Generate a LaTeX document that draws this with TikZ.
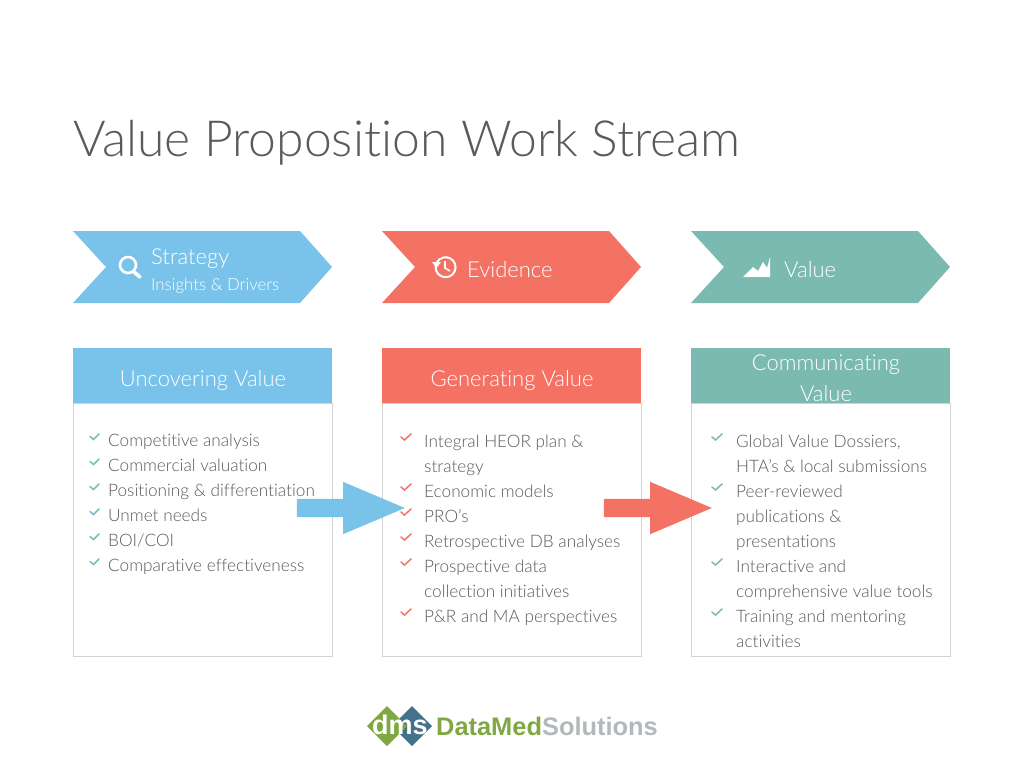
\documentclass[tikz,border=0pt]{standalone}
\usepackage{fontspec}
\setmainfont[Ligatures=CommonOff]{Lato Light}
\newfontfamily\logofont{Liberation Sans}
\usetikzlibrary{shapes.arrows}
\definecolor{skyblue}{HTML}{79C3EA}
\definecolor{coral}{HTML}{F47264}
\definecolor{teal}{HTML}{7BBAB1}
\definecolor{bodytext}{HTML}{5A5A5A}
\definecolor{rulegray}{HTML}{D2D2D2}
\definecolor{logogreen}{HTML}{7FA843}
\definecolor{logoblue}{HTML}{44728C}
\definecolor{logogray}{HTML}{B4B8BA}
\tikzset{
    chevron/.style={fill=#1},
    head/.style={fill=#1, minimum width=259, minimum height=55, inner sep=0},
    headtext/.style={text=white, inner sep=0, font=\fontsize{22}{31}\selectfont, align=center},
    card/.style={draw=rulegray, fill=white, minimum width=259, minimum height=253, inner sep=0},
    item/.style={anchor=base west, inner sep=0, text=bodytext, font=\fontsize{17.2}{20}\selectfont},
    tick/.style={draw=#1, line width=1.5, line cap=round},
    label/.style={anchor=base west, inner sep=0, text=white, font=\fontsize{22}{25}\selectfont},
    bigarrow/.style={single arrow, fill=#1, inner xsep=0, inner ysep=9, minimum width=52, minimum height=108, single arrow head extend=17, single arrow tip angle=46}
}
\begin{document}
\begin{tikzpicture}[x=1pt,y=-1pt]
    \useasboundingbox (0,0) rectangle (1024,768);
    % Title
    \node[anchor=base west, inner sep=0, text=bodytext, font=\fontsize{49.8}{58}\selectfont] (title) at (73,156) {Value Proposition Work Stream};
    % Chevrons
    \foreach \x/\col in {73/skyblue,382/coral,691/teal} {
        \fill[chevron=\col] (\x,231) -- ++(227,0) -- ++(32,36) -- ++(-32,36) -- ++(-227,0) -- ++(33,-36) -- cycle;
    }
    \node[label] (strategy) at (151,264) {Strategy};
    \node[label, font=\fontsize{16.8}{20}\selectfont] (insights) at (151,290) {Insights \& Drivers};
    \node[label] (evidence) at (467,277) {Evidence};
    \node[label] (value) at (784,277) {Value};
    % Icons
    \draw[white, line width=2.6] (128,265) circle (8);
    \draw[white, line width=3.6, line cap=round] (134,272) -- (140,277);
    \draw[white, line width=2] (436.5,263) arc (205:-150:10);
    \fill[white] (432,262) -- (441,262) -- (436.5,268) -- cycle;
    \draw[white, line width=1.6] (445,261) -- (445,268) -- (450,271);
    \fill[white] (743,277) -- (753,267) -- (758,271) -- (763,262) -- (767,268) -- (770,257) -- (770,277) -- cycle;
    % Cards
    \foreach \x/\col/\name in {73/skyblue/one,382/coral/two,691/teal/three} {
        \node[card, anchor=north west] (card\name) at (\x,403) {};
        \node[head=\col, anchor=south west] (head\name) at (\x,403) {};
    }
    \node[headtext] (uncovering) at (203,381) {Uncovering Value};
    \node[headtext] (generating) at (512,381) {Generating Value};
    \node[headtext] (communicating) at (826,378) {Communicating\\Value};
    % Lists
    \foreach \y/\txt in {446/Competitive analysis,471/Commercial valuation,496/Positioning \& differentiation,521/Unmet needs,546/{BOI/COI},571/Comparative effectiveness} {
        \node[item] at (108,\y) {\txt};
        \draw[tick=teal!70!skyblue] (90,\y-9.5) -- (93.5,\y-6.5) -- (99,\y-12);
    }
    \foreach \y/\txt in {447/Integral HEOR plan \&,472/strategy,497/Economic models,522/PRO's,547/Retrospective DB analyses,572/Prospective data,597/collection initiatives,622/P\&R and MA perspectives} {
        \node[item] at (424,\y) {\txt};
    }
    \foreach \y in {447,497,522,547,572,622} {
        \draw[tick=coral] (401,\y-10) -- (404.5,\y-7) -- (411,\y-13);
    }
    \foreach \y/\txt in {447/{Global Value Dossiers,},472/HTA's \& local submissions,497/Peer-reviewed,522/publications \&,547/presentations,572/Interactive and,597/comprehensive value tools,622/Training and mentoring,647/activities} {
        \node[item] at (736,\y) {\txt};
    }
    \foreach \y in {447,497,572,622} {
        \draw[tick=teal] (712,\y-10) -- (715.5,\y-7) -- (722,\y-13);
    }
    % Arrows
    \node[bigarrow=skyblue] (flowone) at (340,508) {};
    \node[bigarrow=coral] (flowtwo) at (647,508) {};
    % Logo
    \fill[logoblue] (412,706) -- (432,726) -- (412,746) -- (392,726) -- cycle;
    \fill[logogreen] (387,706) -- (407,726) -- (387,746) -- (367,726) -- cycle;
    \node[anchor=base, inner sep=0, text=white, font=\logofont\bfseries\fontsize{27}{27}\selectfont] (dms) at (400,734) {dms};
    \node[anchor=base west, inner sep=0, font=\logofont\bfseries\fontsize{25.4}{25}\selectfont, text=logogreen] (logoname) at (436,735) {DataMed\textcolor{logogray}{Solutions}};
\end{tikzpicture}
\end{document}
